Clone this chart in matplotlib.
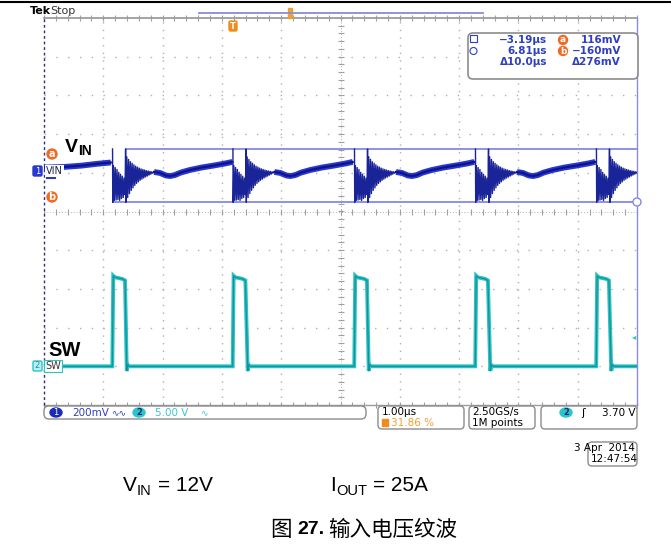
import matplotlib.pyplot as plt
import numpy as np
from matplotlib.patches import FancyBboxPatch, Ellipse, Rectangle

W, H = 671, 550

# time base 1 us/div, trigger (t=0) at 31.86 % of the screen
t_left, t_right = -3.186, 6.814

# ch1 = VIN ripple (mV), 200 mV/div ; ch2 = SW (V), 5 V/div
ch1_pos, ch1_scale = 1.036, 200.0
ch2_pos, ch2_scale = -4.0, 5.0

# SW node edges (us)
sw_rise = [-2.03, 0.00, 2.05, 4.09, 6.13]
sw_fall = [-1.81, 0.23, 2.27, 4.32, 6.36]
# on-time plateau (time after rising edge, volts)
sw_top_dt = [0.012, 0.04, 0.10, 0.16, 0.21]
sw_top_v = [11.7, 11.5, 11.4, 11.3, 11.1]

# VIN before first edge
vin_lead_t = [-3.186, -2.85, -2.55, -2.30, -2.06]
vin_lead_mv = [20, 23, 30, 39, 46]
# ringing after each switching edge (time after rising edge, mV)
vin_ring_dt = [0.000, 0.004, 0.015, 0.030, 0.045, 0.060, 0.075, 0.090, 0.105, 0.120,
               0.135, 0.150, 0.165, 0.180, 0.195, 0.210, 0.220, 0.226, 0.240, 0.255,
               0.270, 0.285, 0.300, 0.315, 0.330, 0.345, 0.360, 0.375, 0.390, 0.405,
               0.420, 0.435, 0.450, 0.465, 0.480, 0.495, 0.510, 0.525, 0.540, 0.555,
               0.570, 0.585, 0.600, 0.615, 0.630, 0.645, 0.660, 0.675, 0.690]
vin_ring_mv = [116, -160, 30, -150, 20, -148, 10, -145, -5, -150,
               -15, -140, -25, -135, -35, -120, 116, -160, 75, -135,
               62, -115, 50, -98, 42, -85, 34, -72, 27, -62,
               22, -54, 17, -46, 13, -40, 10, -34, 7, -29,
               4, -24, 2, -19, 0, -14, -2, -9, -4]
# slow ripple between edges
vin_tail_dt = [0.70, 0.80, 0.90, 0.97, 1.05, 1.15, 1.30, 1.50, 1.70, 1.90, 2.02]
vin_tail_mv = [-3, -8, -21, -24, -19, -6, 7, 20, 30, 41, 49]

cursor_a, cursor_b = 116, -160


def ch1(v):
    return ch1_pos + np.asarray(v, float) / ch1_scale


def ch2(v):
    return ch2_pos + np.asarray(v, float) / ch2_scale


fig = plt.figure(figsize=(W / 100, H / 100), dpi=100)
fig.patch.set_facecolor('white')

ax = fig.add_axes([44 / W, 1 - 405 / H, 593 / W, 387 / H])
ax.set_xlim(t_left, t_right)
ax.set_ylim(-5, 5)
ax.axis('off')

# graticule
grid_c = '#b0b0b0'
for k in range(1, 10):
    if k == 5:
        continue
    ax.axvline(t_left + k, color=grid_c, lw=1.0, ls=(0, (1, 4.5)))
for j in range(-4, 5):
    if j == 0:
        continue
    ax.axhline(j, color=grid_c, lw=1.0, ls=(0, (1, 7.5)))
ax.axhline(0, color='#b0b0b0', lw=0.7, ls=(0, (1, 2)))
ax.axvline(t_left + 5, color='#b0b0b0', lw=0.7, ls=(0, (1, 2)))
xt = np.arange(t_left, t_right + 0.01, 0.2)
yt = np.arange(-5, 5.01, 0.2)
ax.plot(xt, np.zeros_like(xt), ls='none', marker='|', ms=5, color='#a0a0a0', mew=0.8)
ax.plot(np.full_like(yt, t_left + 5), yt, ls='none', marker='_', ms=5, color='#a0a0a0', mew=0.8)
ax.plot(xt, np.full_like(xt, 5), ls='none', marker='|', ms=5, color='#a0a0a0', mew=0.8, clip_on=False)
ax.plot(xt, np.full_like(xt, -5), ls='none', marker='|', ms=5, color='#a0a0a0', mew=0.8, clip_on=False)
ax.axhline(5, color='#9c9c9c', lw=1.3, clip_on=False)
ax.axhline(-5, color='#9c9c9c', lw=1.0, clip_on=False)
ax.axvline(t_left, color='#2b2b8c', lw=1.0, ls=(0, (2, 2)), clip_on=False)
ax.axvline(t_right, color='#8c8cd8', lw=1.0, clip_on=False)

# cursors
ax.plot([sw_fall[0], t_right], ch1([cursor_a, cursor_a]), color='#8589e6', lw=1.3)
ax.plot([sw_rise[0], t_right], ch1([cursor_b, cursor_b]), color='#8589e6', lw=1.3)

# SW trace
sw_t = [t_left]
sw_v = [0.0]
for r, f in zip(sw_rise, sw_fall):
    sw_t += [r - 0.004] + [r + d for d in sw_top_dt] + [f + 0.02, f + 0.035, f + 0.06]
    sw_v += [0.0] + sw_top_v + [-0.6, 0.2, 0.0]
sw_t.append(t_right)
sw_v.append(0.0)
ax.plot(sw_t, ch2(sw_v), color='#2cc3c6', lw=2.8, solid_joinstyle='miter')
ax.plot(sw_t, ch2(sw_v), color='#13929a', lw=0.9)

# VIN trace
ax.plot(vin_lead_t, ch1(vin_lead_mv), color='#2838d0', lw=4.2, solid_capstyle='butt')
ax.plot(vin_lead_t, ch1(vin_lead_mv), color='#0e138a', lw=1.6)
for r in sw_rise:
    ax.plot([r + d for d in vin_ring_dt], ch1(vin_ring_mv), color='#1a2499', lw=1.0)
    tt = [r + d for d in vin_tail_dt]
    ax.plot(tt, ch1(vin_tail_mv), color='#2838d0', lw=4.2, solid_capstyle='butt')
    ax.plot(tt, ch1(vin_tail_mv), color='#0e138a', lw=1.6)

# overlay in pixel coordinates
ov = fig.add_axes([0, 0, 1, 1], zorder=5)
ov.set_xlim(0, W)
ov.set_ylim(H, 0)
ov.axis('off')
ov.patch.set_alpha(0)

ov.plot([0, W], [1.5, 1.5], color='black', lw=1.5)

sc = 'DejaVu Sans'
doc = 'Liberation Sans'
blue = '#2f3fc2'
orange = '#f08c1e'
ov.text(30, 11, 'Tek', fontsize=8, fontweight='bold', family=sc, va='center')
ov.text(50, 11, 'Stop', fontsize=8, family=sc, va='center', color='#333333')

# record view bar and trigger marker
ov.plot([199, 483], [13, 13], color='#8a8ad8', lw=1.3)
ov.add_patch(Rectangle((288, 8), 4, 10, color='#f0a030'))
ov.add_patch(FancyBboxPatch((229, 21), 8, 10, boxstyle='round,pad=0,rounding_size=1.5', color=orange))
ov.text(233, 26.5, 'T', fontsize=6, fontweight='bold', color='white', ha='center', va='center', family=sc)

# cursor readout
ov.add_patch(FancyBboxPatch((468, 33), 170, 46, boxstyle='round,pad=0,rounding_size=5',
                            fc='white', ec='#8c8c8c', lw=1.2))
ov.add_patch(Rectangle((470, 35), 7, 7, fc='none', ec=blue, lw=0.8))
ov.add_patch(Ellipse((473.5, 51), 7, 7, fc='none', ec=blue, lw=0.8))
rows = [40, 51, 62]
for y, s in zip(rows, ['\u22123.19\u00b5s', '6.81\u00b5s', '\u039410.0\u00b5s']):
    ov.text(547, y, s, fontsize=7.5, color=blue, ha='right', va='center', family=sc, fontweight='bold')
for y, s in zip(rows, ['116mV', '\u2212160mV', '\u0394276mV']):
    ov.text(621, y, s, fontsize=7.5, color=blue, ha='right', va='center', family=sc, fontweight='bold')
for y, s in zip(rows[:2], ['a', 'b']):
    ov.add_patch(Ellipse((563, y), 9, 9, color='#ee6a22'))
    ov.text(563, y, s, fontsize=6.5, color='white', ha='center', va='center', fontweight='bold', family=sc)

# cursor markers at left edge
for y, s in [(154, 'a'), (197, 'b')]:
    ov.add_patch(Ellipse((52, y), 10, 10, color='#ee6a22'))
    ov.text(52, y, s, fontsize=7, color='white', ha='center', va='center', fontweight='bold', family=sc)
ov.add_patch(Ellipse((637, 202), 8, 8, fc='white', ec='#8589e6', lw=1))

# channel markers
ov.add_patch(FancyBboxPatch((33, 166), 9, 10, boxstyle='round,pad=0,rounding_size=1.5', color='#2838d0'))
ov.text(37.5, 171, '1', fontsize=6, color='white', ha='center', va='center', family=sc)
ov.text(46, 171, 'VIN', fontsize=7, color='#222244', va='center', family=sc,
        bbox=dict(boxstyle='square,pad=0.1', fc='white', ec='none'))
ov.plot([47, 55], [178, 178], color='#2838d0', lw=1.5)
ov.add_patch(FancyBboxPatch((33, 361), 9, 10, boxstyle='round,pad=0,rounding_size=1.5',
                            fc='#bdeff2', ec='#2cc3c6', lw=1))
ov.text(37.5, 366, '2', fontsize=6, color='#13929a', ha='center', va='center', family=sc)
ov.text(45, 366, 'SW', fontsize=7, color='#333333', va='center', family=sc,
        bbox=dict(boxstyle='square,pad=0.15', fc='white', ec='#2cc3c6', lw=0.8))
ov.text(634, 337, '\u25c2', fontsize=6, color='#2cc3c6', ha='center', va='center', family=sc)

# signal names
ov.text(65, 152, 'V', fontsize=14, fontweight='bold', family=doc, va='baseline')
ov.text(78, 155, 'IN', fontsize=10, fontweight='bold', family=doc, va='baseline')
ov.text(48, 356, 'SW', fontsize=14.5, fontweight='bold', family=doc, va='baseline')

# status bar
ov.add_patch(FancyBboxPatch((44, 406), 322, 13, boxstyle='round,pad=0,rounding_size=5',
                            fc='white', ec='#8c8c8c', lw=1))
ov.add_patch(Ellipse((56, 412.5), 12, 9, color='#1b2ab8'))
ov.text(56, 412.5, '1', fontsize=6, color='white', ha='center', va='center', family=sc)
ov.text(72, 412.5, '200mV', fontsize=7.5, color=blue, va='center', family=sc)
ov.text(111, 412.5, '\u223f\u223f', fontsize=6.5, color=blue, va='center', family=sc)
ov.add_patch(Ellipse((139, 412.5), 12, 9, color='#29c5cf'))
ov.text(139, 412.5, '2', fontsize=6, color='#1b2a6b', ha='center', va='center', family=sc, fontweight='bold')
ov.text(155, 412.5, '5.00 V', fontsize=7.5, color='#3cc8d0', va='center', family=sc)
ov.text(200, 412.5, '\u223f', fontsize=6.5, color='#3cc8d0', va='center', family=sc)

ov.add_patch(FancyBboxPatch((378, 406), 86, 23, boxstyle='round,pad=0,rounding_size=4',
                            fc='white', ec='#8c8c8c', lw=1))
ov.text(382, 412, '1.00\u00b5s', fontsize=7.5, va='center', family=sc)
ov.add_patch(Rectangle((382, 419), 6, 7, color=orange))
ov.text(391, 423, '31.86 %', fontsize=7.5, va='center', family=sc, color='#f0a030')

ov.add_patch(FancyBboxPatch((469, 406), 66, 23, boxstyle='round,pad=0,rounding_size=4',
                            fc='white', ec='#8c8c8c', lw=1))
ov.text(472, 412, '2.50GS/s', fontsize=7.5, va='center', family=sc)
ov.text(472, 423, '1M points', fontsize=7.5, va='center', family=sc)

ov.add_patch(FancyBboxPatch((541, 406), 96, 23, boxstyle='round,pad=0,rounding_size=4',
                            fc='white', ec='#8c8c8c', lw=1))
ov.add_patch(Ellipse((566, 412.5), 12, 9, color='#29c5cf'))
ov.text(566, 412.5, '2', fontsize=6, color='#1b2a6b', ha='center', va='center', family=sc, fontweight='bold')
ov.text(581, 412.5, '\u0283', fontsize=8, va='center', family=sc)
ov.text(635, 412.5, '3.70 V', fontsize=7.5, va='center', ha='right', family=sc)

ov.add_patch(FancyBboxPatch((588, 442), 49, 24, boxstyle='round,pad=0,rounding_size=4',
                            fc='white', ec='#8c8c8c', lw=1))
ov.text(635, 448, '3 Apr  2014', fontsize=7.5, va='center', ha='right', family=sc)
ov.text(591, 459, '12:47:54', fontsize=7.5, va='center', family=sc)

# conditions and caption
ov.text(123, 491, 'V', fontsize=15, family=doc, va='baseline')
ov.text(137, 495, 'IN', fontsize=10.5, family=doc, va='baseline')
ov.text(158, 491, '= 12V', fontsize=15, family=doc, va='baseline')
ov.text(330, 491, 'I', fontsize=15, family=doc, va='baseline')
ov.text(336, 495, 'OUT', fontsize=10.5, family=doc, va='baseline')
ov.text(373, 491, '= 25A', fontsize=15, family=doc, va='baseline')

ov.text(270, 530, '\u56fe', fontsize=15.5, family='Noto Sans CJK SC', va='center')
ov.text(297, 530, '27.', fontsize=14, family=doc, fontweight='bold', va='center')
ov.text(328, 530, '\u8f93\u5165\u7535\u538b\u7eb9\u6ce2', fontsize=15.5, family='Noto Sans CJK SC', va='center')

fig.savefig('out.png', dpi=100)
